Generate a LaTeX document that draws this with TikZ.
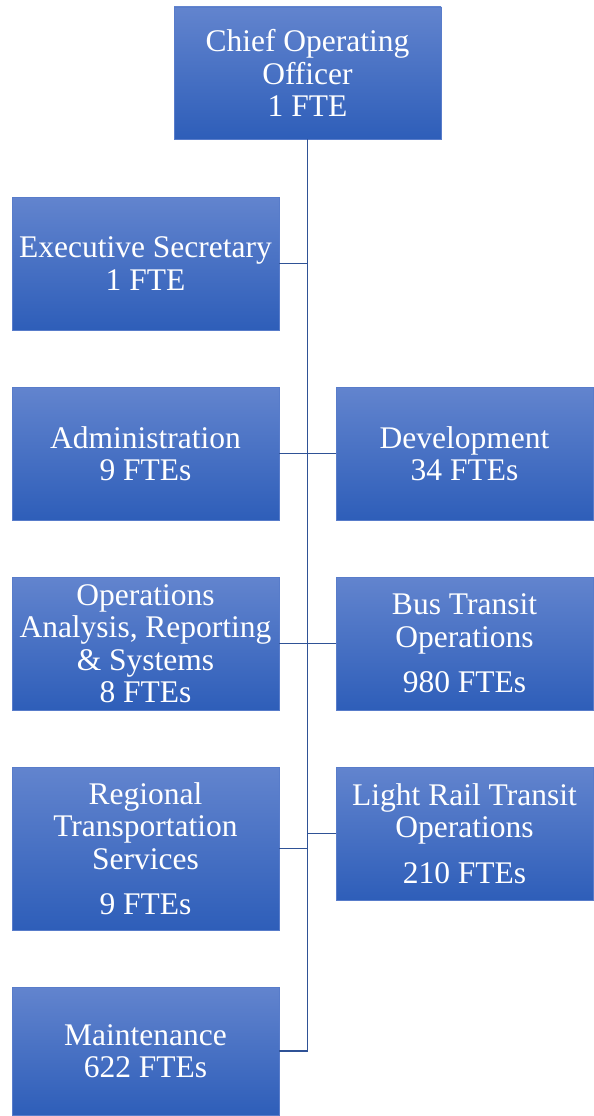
\documentclass[tikz,border=0pt]{standalone}
\usepackage{fontspec}
\setmainfont{Liberation Serif}
\usetikzlibrary{positioning}
\definecolor{boxtop}{RGB}{98,132,206}
\definecolor{boxbot}{RGB}{46,94,185}
\definecolor{linkblue}{RGB}{47,82,150}

\begin{document}
\begin{tikzpicture}[x=1pt,y=-1pt,
    unit/.style={rectangle,top color=boxtop,bottom color=boxbot,draw=boxtop!80!boxbot,
    line width=0.6pt,text=white,align=center,inner sep=0pt,minimum width=267pt,
    minimum height=133pt,font=\fontsize{31.5}{32.5}\selectfont},
    link/.style={draw=linkblue,line width=1.8pt}]
    \useasboundingbox (0,0) rectangle (594,1116);
    \node[unit,minimum height=132pt] (coo) at (307.5,73) {Chief Operating\\Officer\\1 FTE};
    \node[unit] (exec) at (145.5,263.5) {Executive Secretary\\1 FTE};
    \node[unit] (admin) at (145.5,453.5) {Administration\\9 FTEs};
    \node[unit,minimum width=257pt] (dev) at (464.5,453.5) {Development\\34 FTEs};
    \node[unit] (oars) at (145.5,643.5) {Operations\\Analysis, Reporting\\\& Systems\\8 FTEs};
    \node[unit,minimum width=257pt] (bus) at (464.5,643.5) {Bus Transit\\Operations\\[13pt]980 FTEs};
    \node[unit,minimum height=163pt] (rts) at (145.5,848.5) {Regional\\Transportation\\Services\\[13pt]9 FTEs};
    \node[unit,minimum width=257pt] (lrt) at (464.5,833.5) {Light Rail Transit\\Operations\\[13pt]210 FTEs};
    \node[unit,minimum height=128pt] (maint) at (145.5,1051) {Maintenance\\622 FTEs};
    % trunk and branches
    \coordinate (bend) at (coo.south |- maint.east);
    \draw[link] (coo.south) -- (bend) -- (maint.east);
    \draw[link] (exec.east) -- (exec.east -| coo.south);
    \draw[link] (admin.east) -- (dev.west);
    \draw[link] (oars.east) -- (bus.west);
    \draw[link] (rts.east) -- (rts.east -| coo.south);
    \draw[link] (lrt.west) -- (lrt.west -| coo.south);
\end{tikzpicture}
\end{document}
